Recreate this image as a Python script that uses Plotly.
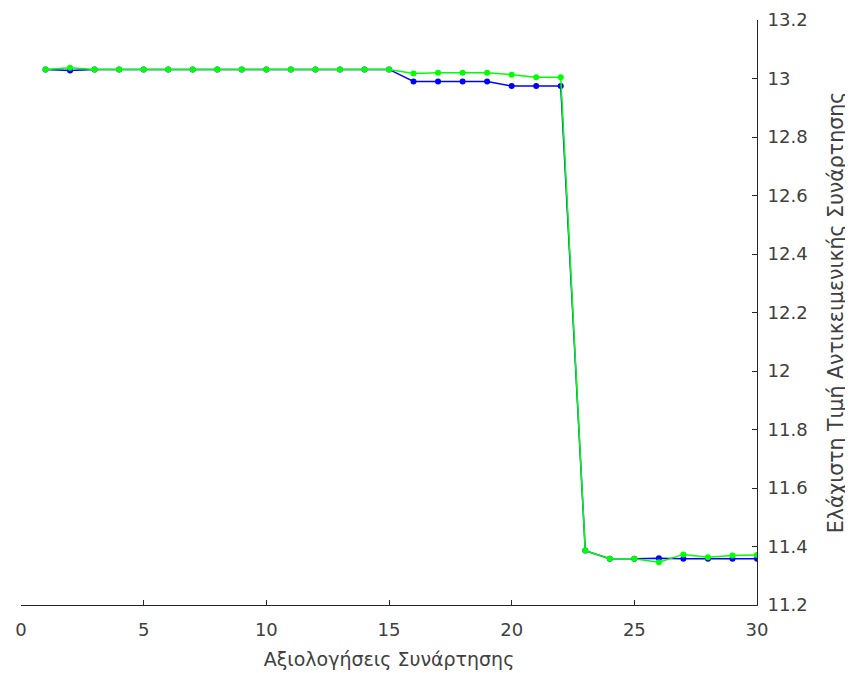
import plotly.graph_objects as go

evals = list(range(1, 31))
blue_vals = [13.031, 13.027, 13.031, 13.031, 13.031, 13.031, 13.031, 13.031, 13.031, 13.031,
             13.031, 13.031, 13.031, 13.031, 13.031, 12.990, 12.990, 12.990, 12.990, 12.974,
             12.974, 12.974, 11.386, 11.358, 11.358, 11.360, 11.358, 11.358, 11.358, 11.358]
green_vals = [13.031, 13.037, 13.031, 13.031, 13.031, 13.031, 13.031, 13.031, 13.031, 13.031,
              13.031, 13.031, 13.031, 13.031, 13.031, 13.017, 13.020, 13.020, 13.020, 13.013,
              13.004, 13.004, 11.386, 11.358, 11.358, 11.346, 11.373, 11.363, 11.369, 11.371]
x_ticks = [0, 5, 10, 15, 20, 25, 30]
y_ticks = [11.2, 11.4, 11.6, 11.8, 12, 12.2, 12.4, 12.6, 12.8, 13, 13.2]

fig = go.Figure()
fig.add_trace(go.Scatter(x=evals, y=blue_vals, mode="lines+markers",
                         line=dict(color="#0000FF", width=1.5),
                         marker=dict(color="#0000FF", size=6), showlegend=False))
fig.add_trace(go.Scatter(x=evals, y=green_vals, mode="lines+markers",
                         line=dict(color="#00FF00", width=1.5),
                         marker=dict(color="#00FF00", size=6), showlegend=False))

axcol = "#262626"
tickfont = dict(family="DejaVu Sans", size=18, color="#404040")
xtitlefont = dict(family="DejaVu Sans", size=19, color="#404040")
ytitlefont = dict(family="DejaVu Sans", size=20.5, color="#404040")
fig.update_layout(
    width=845, height=665,
    margin=dict(l=13, r=96, t=12, b=68, autoexpand=False),
    plot_bgcolor="white", paper_bgcolor="white",
    font=tickfont,
    xaxis=dict(range=[0, 30], tickvals=x_ticks, ticks="inside", ticklen=5,
               tickcolor=axcol, showline=True, linecolor=axcol, linewidth=1,
               showgrid=False, zeroline=False, tickfont=tickfont, automargin=False,
               ticklabelstandoff=8,
               title=dict(text="Αξιολογήσεις Συνάρτησης", font=xtitlefont, standoff=14)),
    yaxis=dict(range=[11.2, 13.2], tickvals=y_ticks, side="right", ticks="inside", ticklen=5,
               tickcolor=axcol, showline=True, linecolor=axcol, linewidth=1,
               showgrid=False, zeroline=False, tickfont=tickfont, automargin=False,
               ticklabelstandoff=6,
               title=dict(text="Ελάχιστη Τιμή Αντικειμενικής Συνάρτησης", font=ytitlefont, standoff=21)),
)
fig.write_html("out.html")
